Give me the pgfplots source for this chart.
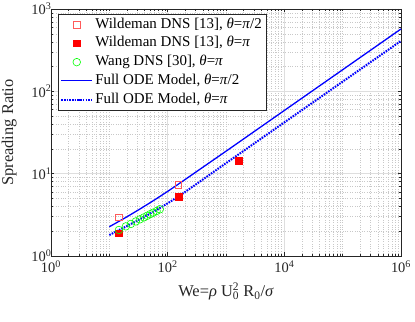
\documentclass[border=0pt]{standalone}
\usepackage{pgfplots}
\pgfplotsset{compat=1.18}
\usepackage{fontspec}
\setmainfont{Liberation Serif}
\definecolor{axgray}{RGB}{38,38,38}
\definecolor{sqred}{RGB}{255,90,90}
\definecolor{majgrid}{RGB}{222,222,222}
\definecolor{mingrid}{RGB}{200,200,200}

\begin{document}
\begin{tikzpicture}
\begin{axis}[
  xmode=log, ymode=log,
  scale only axis, width=350bp, height=247bp,
  xmin=1, xmax=1e6, ymin=1, ymax=1000,
  xtick={1,1e2,1e4,1e6},
  xticklabels={10\textsuperscript{0},10\textsuperscript{2},10\textsuperscript{4},10\textsuperscript{6}},
  ytick={1,10,100,1000},
  yticklabels={10\textsuperscript{0},10\textsuperscript{1},10\textsuperscript{2},10\textsuperscript{3}},
  minor xtick={2,3,4,5,6,7,8,9,10,20,30,40,50,60,70,80,90,200,300,400,500,600,700,800,900,1000,2000,3000,4000,5000,6000,7000,8000,9000,2e4,3e4,4e4,5e4,6e4,7e4,8e4,9e4,1e5,2e5,3e5,4e5,5e5,6e5,7e5,8e5,9e5},
  minor ytick={2,3,4,5,6,7,8,9,20,30,40,50,60,70,80,90,200,300,400,500,600,700,800,900},
  grid=both,
  major grid style={majgrid, line width=0.5bp},
  minor grid style={mingrid, dotted, line width=0.5bp},
  major tick length=3.5bp, minor tick length=2bp,
  tick style={axgray, line width=0.5bp},
  axis line style={axgray, line width=0.6bp},
  ticklabel style={font=\fontsize{14.5}{16}\selectfont, text=axgray},
  yticklabel style={xshift=4bp},
  xticklabel style={yshift=-1.5bp},
  label style={font=\fontsize{16.5}{18}\selectfont, text=axgray},
  xlabel={We=\textit{ρ} U\rlap{\textsuperscript{2}}\textsubscript{0} R\textsubscript{0}/\textit{σ}},
  xlabel style={yshift=-3bp},
  ylabel={Spreading Ratio},
  ylabel style={yshift=8bp},
  legend cell align=left,
  legend image code/.code={\draw[mark repeat=2,mark phase=2,#1] plot coordinates {(0bp,0bp) (15.5bp,0bp) (31bp,0bp)};},
  legend style={at={(axis description cs:0.02,0.98)}, anchor=north west, draw=axgray, line width=0.5bp, fill=white,
    inner xsep=2bp, inner ysep=1.2bp, font=\fontsize{15}{17}\selectfont,
    nodes={inner ysep=1.85bp, inner xsep=2bp, text height=11bp, text depth=4bp}, row sep=0bp},
]
\addplot[only marks, mark=square, mark size=3.3bp, sqred, mark options={line width=0.6bp}]
  coordinates {(14.6,2.95) (151,7.3)};
\addlegendentry{Wildeman DNS [13], \textit{θ}=\textit{π}/2}
\addplot[only marks, mark=square*, mark size=3.3bp, red]
  coordinates {(14.6,1.89) (155,5.25) (1660,14.3)};
\addlegendentry{Wildeman DNS [13], \textit{θ}=\textit{π}}
\addplot[only marks, mark=o, mark size=3.8bp, green, mark options={line width=0.6bp}]
  coordinates {(14.6,2.07) (19.2,2.29) (23.4,2.45) (28.5,2.63) (33.4,2.79) (39.1,2.94)
               (44.6,3.08) (50.1,3.22) (56.5,3.36) (64.6,3.52) (73.5,3.69)};
\addlegendentry{Wang DNS [30], \textit{θ}=\textit{π}}
\addplot[blue, line width=1.3bp, smooth]
  coordinates {(10,2.265) (17.78,2.851) (31.62,3.631) (56.23,4.677) (100,6.095) (177.8,8.035)
               (316.2,10.65) (1000,18.73) (3162,33.11) (1e4,58.55) (31623,103.5) (1e5,183.0)
               (316228,323.6) (1e6,572.1)};
\addlegendentry{Full ODE Model, \textit{θ}=\textit{π}/2}
\addplot[blue, line width=2bp, dash pattern=on 1.6bp off 1.1bp, smooth]
  coordinates {(10,1.799) (17.78,2.213) (31.62,2.738) (56.23,3.428) (100,4.365) (177.8,5.689)
               (316.2,7.543) (1000,13.41) (3162,23.71) (1e4,41.93) (31623,74.13) (1e5,131.1)
               (316228,231.7) (1e6,409.7)};
\addlegendentry{Full ODE Model, \textit{θ}=\textit{π}}
\end{axis}
\pgfresetboundingbox
\path[use as bounding box] ([xshift=-51bp,yshift=-66bp]current axis.south west) rectangle ([xshift=14bp,yshift=9bp]current axis.north east);
\end{tikzpicture}
\end{document}
